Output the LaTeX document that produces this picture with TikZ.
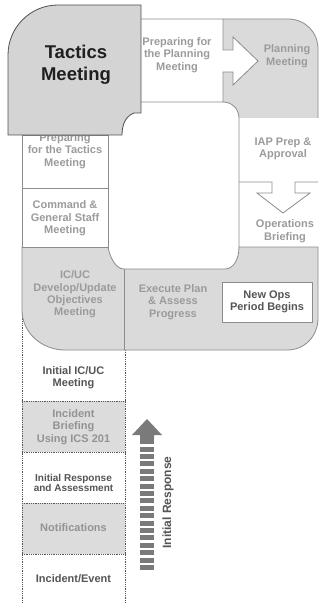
\documentclass[tikz,border=0pt]{standalone}
\usepackage{fontspec}
\setmainfont{Liberation Sans}
\definecolor{fillgray}{HTML}{DADADA}
\definecolor{tacgray}{HTML}{D4D4D4}
\definecolor{rowgray}{HTML}{DCDCDC}
\definecolor{linegray}{HTML}{8C8C8C}
\definecolor{tacline}{HTML}{505050}
\definecolor{labelgray}{HTML}{9B9B9B}
\definecolor{darklabel}{HTML}{555555}
\definecolor{arrowgray}{HTML}{7A7A7A}
\definecolor{dotgray}{HTML}{555555}
\begin{document}
\begin{tikzpicture}[x=1pt,y=-1pt,
  edge/.style={draw=linegray, line width=0.8pt},
  dotline/.style={draw=dotgray, line width=0.6pt, dash pattern=on 0.8pt off 1pt},
  lbl/.style={font=\fontsize{11}{12.4}\selectfont\bfseries, text=labelgray, align=center, inner sep=0pt},
  dlbl/.style={lbl, text=darklabel}]
\useasboundingbox (0,0) rectangle (320,604);
\fill[white] (0,0) rectangle (320,604);

% lower column (initial response)
\fill[rowgray] (22,401) rectangle (125,452);
\fill[rowgray] (22,503) rectangle (125,554);
\draw[dotline] (22,305) -- (22,604);
\draw[dotline] (125,350) -- (125,604);
\foreach \yy in {401,452,503,554} \draw[dotline] (22,\yy) -- (125,\yy);

% lower gray region
\path[fill=fillgray, edge] (22,247) -- (108,247) .. controls (110,258) and (116,269) .. (124,269)
  -- (225,269) .. controls (233,269) and (239,260) .. (239,247) -- (318,247) -- (318,318)
  .. controls (318,336) and (305,350) .. (287,350) -- (65,350)
  .. controls (42,350) and (22,333) .. (22,310) -- cycle;
\draw[edge] (124,269) -- (124,350);
\node[draw=linegray, line width=0.8pt, fill=white, minimum width=90pt, minimum height=40pt, inner sep=0pt] (newbox) at (267,302) {};

% planning gray region
\fill[fillgray] (223,19) -- (288,19) .. controls (305,19) and (318,32) .. (318,49) -- (318,118)
  -- (239,118) .. controls (239,109) and (232,102) .. (223,102) -- cycle;
\draw[edge] (223,19) -- (288,19) .. controls (305,19) and (318,32) .. (318,49) -- (318,118);
\draw[edge] (223,102) .. controls (232,102) and (239,109) .. (239,118) -- (239,247);

% preparing for planning box with arrow
\path[fill=white, edge] (141,19) -- (223,19) -- (223,50) -- (233,50) -- (233,37) -- (258,61)
  -- (233,85) -- (233,72) -- (223,72) -- (223,102) -- (141,102);

% IAP / operations briefing divider arrow
\draw[edge, fill=white] (239,182) -- (272,182) -- (272,193) -- (257,193) -- (283,213) -- (310,193)
  -- (295,193) -- (295,182) -- (318,182);

% left boxes
\path[fill=white, edge] (22,135) rectangle (108,188);
\path[fill=white, edge] (22,188) rectangle (108,247);

% labels
\node[lbl] (preptac) at (65,151) {Preparing\\for the Tactics\\Meeting};
\node[lbl] (cmd) at (65,218.5) {Command \&\\General Staff\\Meeting};
\node[lbl] (icuc) at (75,294.5) {IC/UC\\Develop/Update\\Objectives\\Meeting};
\node[lbl] (exec) at (173,302) {Execute Plan\\\& Assess\\Progress};
\node[dlbl] (newops) at (newbox) {New Ops\\Period Begins};
\node[lbl] (prepplan) at (177,55) {Preparing for\\the Planning\\Meeting};
\node[lbl] (plan) at (287,56) {Planning\\Meeting};
\node[lbl] (iap) at (283,149) {IAP Prep \&\\Approval};
\node[lbl] (ops) at (285,231) {Operations\\Briefing};

% tactics meeting
\path[fill=tacgray, draw=tacline, line width=0.8pt] (8,135) -- (8,55) .. controls (8,27.4) and (30.4,5) .. (58,5)
  -- (141,5) -- (141,113) -- (134,113) .. controls (126,116) and (122,124) .. (122,135) -- cycle;
\node[font=\fontsize{18.5}{21.5}\selectfont\bfseries, text=black!88, align=center, inner sep=0pt] (tac) at (76,65) {Tactics\\Meeting};

% lower column labels
\node[dlbl] (iicuc) at (73.5,377.5) {Initial IC/UC\\Meeting};
\node[lbl, text=gray!85] (brief) at (73.5,427) {Incident\\Briefing\\Using ICS 201};
\node[dlbl, font=\fontsize{10}{10.5}\selectfont\bfseries] (resp) at (73.5,483) {Initial Response\\and Assessment};
\node[lbl, text=gray!85] (notif) at (73.5,528) {Notifications};
\node[dlbl] (event) at (73.5,579) {Incident/Event};

% initial response arrow
\coordinate (abot) at (147,570);
\coordinate (atop) at (147,437);
\draw[arrowgray, line width=14pt, dash pattern=on 5pt off 2.4pt] (abot) -- (atop);
\fill[arrowgray] (132,435) -- (147,419) -- (162,435) -- (154,435) -- (154,439) -- (140,439) -- (140,435) -- cycle;
\node[dlbl, font=\fontsize{12}{13}\selectfont\bfseries, rotate=90] (irlbl) at (168,502.5) {Initial Response};
\end{tikzpicture}
\end{document}
